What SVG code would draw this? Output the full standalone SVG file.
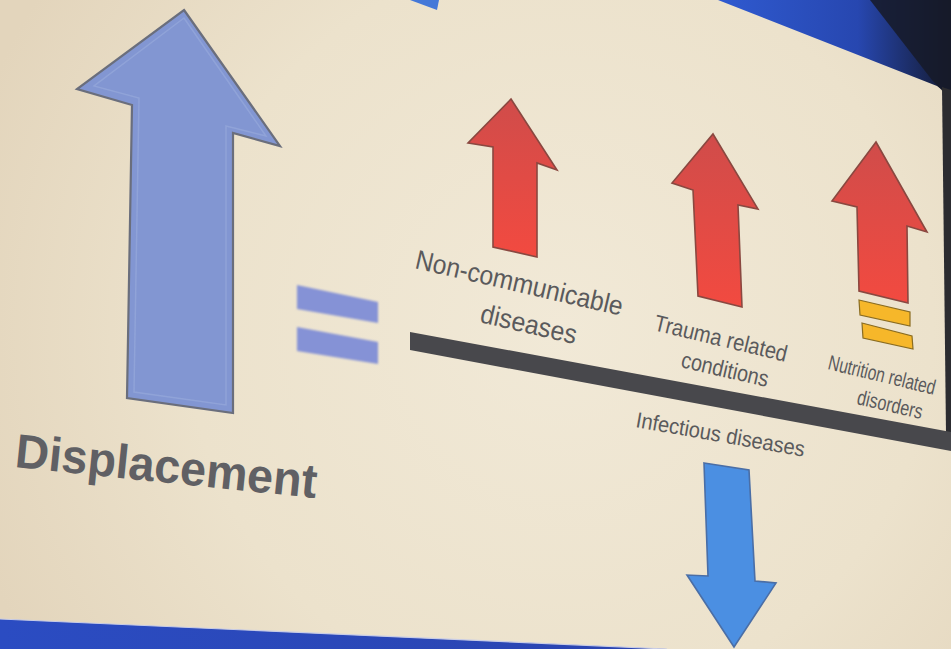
<svg xmlns="http://www.w3.org/2000/svg" width="951" height="649" viewBox="0 0 951 649">
  <defs>
    <radialGradient id="bg" cx="560" cy="330" r="620" gradientUnits="userSpaceOnUse">
      <stop offset="0" stop-color="#f1e9d7"/>
      <stop offset="0.6" stop-color="#ece2cc"/>
      <stop offset="1" stop-color="#e3d5bc"/>
    </radialGradient>
    <linearGradient id="redg" x1="0" y1="0" x2="0" y2="1">
      <stop offset="0" stop-color="#d04c4a"/>
      <stop offset="1" stop-color="#f24a40"/>
    </linearGradient>
    <linearGradient id="topband" x1="0" y1="0" x2="1" y2="0">
      <stop offset="0" stop-color="#2f5ad0"/>
      <stop offset="0.6" stop-color="#2747b0"/>
      <stop offset="1" stop-color="#141a30"/>
    </linearGradient>
    <linearGradient id="botband" x1="0" y1="0" x2="1" y2="0">
      <stop offset="0" stop-color="#2b4cc2"/>
      <stop offset="1" stop-color="#2a44b0"/>
    </linearGradient>
    <filter id="soft" x="-10%" y="-10%" width="120%" height="120%">
      <feGaussianBlur stdDeviation="0.9"/>
    </filter>
    <style>
      .lbl { font-family: "Liberation Sans", Arial, sans-serif; fill: #5a5a5c; }
      .red { fill: url(#redg); stroke: #8a4840; stroke-width: 1.6; stroke-linejoin: miter; }
      .yel { fill: #f6b72a; stroke: #8a6c20; stroke-width: 1.2; }
    </style>
  </defs>

  <!-- slide background -->
  <rect x="0" y="0" width="951" height="649" fill="url(#bg)"/>

  <!-- projection frame parts -->
  <polygon points="718,0 951,0 951,96 937,86" fill="url(#topband)"/>
  <polygon points="870,0 951,0 951,100 932,80" fill="#161a28" opacity="0.85"/>
  <polygon points="942,87 951,90 951,434 946,433" fill="#2c2c30"/>
  <polygon points="0,619 667,649 0,649" fill="url(#botband)"/>
  <line x1="0" y1="619" x2="667" y2="649" stroke="#c9cde6" stroke-width="1.2"/>
  <polygon points="410,0 439,0 437,10" fill="#4478d8"/>

  <!-- Displacement node -->
  <g id="displacement">
    <polygon points="184,10 280,146 233,133 233,413 127,398 132,105 77,89" fill="#8296d2" stroke="#6a6e7c" stroke-width="2.2" stroke-linejoin="miter"/>
    <polygon points="184,18 266,136 226,126 226,405 134,392 139,98 94,86" fill="none" stroke="#9aabdc" stroke-width="1.5" opacity="0.6"/>
    <text class="lbl" transform="translate(14,467) rotate(5.9)" font-size="48" font-weight="bold" style="fill:#606064" textLength="303" lengthAdjust="spacingAndGlyphs">Displacement</text>
  </g>

  <!-- equals sign -->
  <g id="equals" filter="url(#soft)">
    <polygon points="297,285 378,302 378,323 297,309" fill="#8592d6"/>
    <polygon points="297,327 378,342 378,364 297,351" fill="#8592d6"/>
  </g>

  <!-- Non-communicable diseases -->
  <g id="ncd">
    <polygon class="red" points="511,99 557,170 537,163 537,257 493,247 493,147 468,143"/>
    <text class="lbl" transform="translate(414,268) rotate(13)" font-size="27" textLength="212" lengthAdjust="spacingAndGlyphs">Non-communicable</text>
    <text class="lbl" transform="translate(479,322) rotate(13)" font-size="27" textLength="98" lengthAdjust="spacingAndGlyphs">diseases</text>
  </g>

  <!-- Trauma related conditions -->
  <g id="trauma">
    <polygon class="red" points="713,134 758,209 738,205 742,307 698,296 693,190 672,183"/>
    <text class="lbl" transform="translate(653,330) rotate(13.5)" font-size="23" textLength="136" lengthAdjust="spacingAndGlyphs">Trauma related</text>
    <text class="lbl" transform="translate(680,367) rotate(13)" font-size="23" textLength="89" lengthAdjust="spacingAndGlyphs">conditions</text>
  </g>

  <!-- Nutrition related disorders -->
  <g id="nutrition">
    <polygon class="red" points="876,142 927,232 907,226 908,303 859,291 857,207 832,201"/>
    <polygon class="yel" points="859,300 910,312 910,326 860,315"/>
    <polygon class="yel" points="862,323 912,336 913,349 863,338"/>
    <text class="lbl" transform="translate(827,369) rotate(13.6) scale(0.74,1)" font-size="21">Nutrition related</text>
    <text class="lbl" transform="translate(856,404) rotate(13) scale(0.77,1)" font-size="21">disorders</text>
  </g>

  <!-- divider bar -->
  <g id="connectors">
    <polygon points="410,332 951,432 951,451 410,350" fill="#48484c"/>
  </g>

  <!-- Infectious diseases -->
  <g id="infectious">
    <text class="lbl" transform="translate(635,427) rotate(10)" font-size="22" textLength="171" lengthAdjust="spacingAndGlyphs">Infectious diseases</text>
    <polygon points="704,463 749,470 755,581 776,583 734,647 687,575 708,576" fill="#4b8fe2" stroke="#4a6ea6" stroke-width="1.6" stroke-linejoin="miter"/>
  </g>
</svg>
